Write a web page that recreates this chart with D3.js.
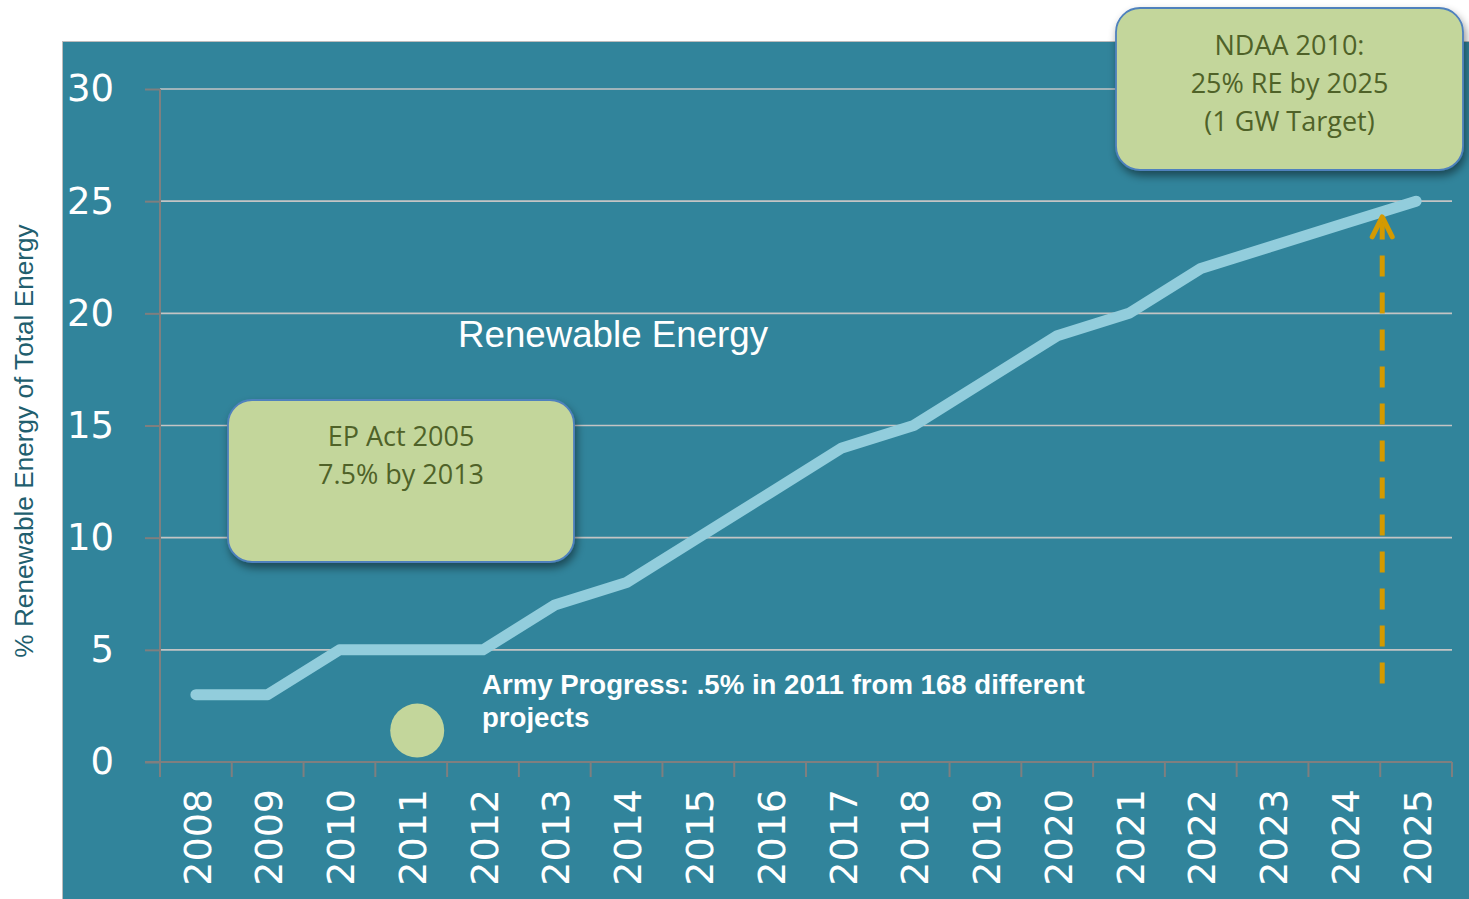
<!DOCTYPE html>
<html>
<head>
<meta charset="utf-8">
<script src="https://cdn.jsdelivr.net/npm/d3@7"></script>
<style>
  html, body { margin: 0; padding: 0; background: #ffffff; }
  svg { display: block; }
</style>
</head>
<body>
<svg id="chart" width="1469" height="899"></svg>
<script>
// data
var years = ["2008","2009","2010","2011","2012","2013","2014","2015","2016",
             "2017","2018","2019","2020","2021","2022","2023","2024","2025"];
var rePercent = [3, 3, 5, 5, 5, 7, 8, 10, 12, 14, 15, 17, 19, 20, 22, 23, 24, 25];
var yTicks = [0, 5, 10, 15, 20, 25, 30];
var armyMarker = { year: "2011", value: 1.4 };
var targetArrow = { year: "2025", from: 3.5, to: 24.3 };

var epActLines = ["EP Act 2005", "7.5% by 2013"];
var ndaaLines = ["NDAA 2010:", "25% RE by 2025", "(1 GW Target)"];
var armyLines = ["Army Progress: .5% in 2011 from 168 different", "projects"];

var svg = d3.select("#chart");
var W = +svg.attr("width"), H = +svg.attr("height");

var defs = svg.append("defs");
var shadow = defs.append("filter").attr("id", "shadow")
    .attr("x", "-10%").attr("y", "-10%").attr("width", "130%").attr("height", "140%");
shadow.append("feDropShadow")
    .attr("dx", 2).attr("dy", 5).attr("stdDeviation", 4)
    .attr("flood-color", "#000").attr("flood-opacity", 0.45);

// teal panel
svg.append("rect")
    .attr("x", 62.5).attr("y", 41.5)
    .attr("width", W - 62).attr("height", H - 41)
    .attr("fill", "#31849b")
    .attr("stroke", "#bcbcbc").attr("stroke-width", 1);

var x = d3.scaleBand().domain(years).range([160, 1452]).padding(0);
var y = d3.scaleLinear().domain([0, 30]).range([762, 89]);

// gridlines
svg.append("g").selectAll("line")
    .data(yTicks.filter(function(d) { return d > 0; }))
    .enter().append("line")
    .attr("x1", 160).attr("x2", 1452)
    .attr("y1", function(d) { return y(d); })
    .attr("y2", function(d) { return y(d); })
    .attr("stroke", "#c4c4c4").attr("stroke-width", 1.6);

// y axis
var yAxis = svg.append("g")
    .attr("transform", "translate(160,0)")
    .call(d3.axisLeft(y).tickValues(yTicks).tickSize(15).tickPadding(31));
yAxis.select(".domain").remove();
yAxis.selectAll(".tick line").attr("stroke", "#7f7f7f").attr("stroke-width", 2);
yAxis.selectAll(".tick text")
    .attr("fill", "#ffffff")
    .style("font-family", "'DejaVu Sans', Verdana, sans-serif")
    .style("font-size", "37px");
yAxis.append("line")
    .attr("x1", 0).attr("x2", 0)
    .attr("y1", y(30)).attr("y2", y(0) + 15)
    .attr("stroke", "#7f7f7f").attr("stroke-width", 2);

// x axis
var xAxis = svg.append("g").attr("transform", "translate(0," + y(0) + ")");
xAxis.append("line")
    .attr("x1", 145).attr("x2", 1452).attr("y1", 0).attr("y2", 0)
    .attr("stroke", "#7f7f7f").attr("stroke-width", 2);
xAxis.selectAll(".xtick")
    .data(years.concat(["end"]))
    .enter().append("line")
    .attr("class", "xtick")
    .attr("x1", function(d) { return d === "end" ? x.range()[1] : x(d); })
    .attr("x2", function(d) { return d === "end" ? x.range()[1] : x(d); })
    .attr("y1", 0).attr("y2", 15)
    .attr("stroke", "#7f7f7f").attr("stroke-width", 2);
xAxis.selectAll(".xlabel")
    .data(years)
    .enter().append("text")
    .attr("class", "xlabel")
    .attr("transform", function(d) {
        return "translate(" + (x(d) + x.bandwidth() / 2 + 1) + ",27) rotate(-90)";
    })
    .attr("text-anchor", "end")
    .attr("dy", "0.36em")
    .attr("fill", "#ffffff")
    .style("font-family", "'DejaVu Sans', Verdana, sans-serif")
    .style("font-size", "38px")
    .text(function(d) { return d; });

// y axis title
svg.append("text")
    .attr("transform", "translate(33,441) rotate(-90)")
    .attr("text-anchor", "middle")
    .attr("fill", "#215e6e")
    .style("font-family", "'Liberation Sans', Arial, sans-serif")
    .style("font-size", "26.2px")
    .text("% Renewable Energy of Total Energy");

// the RE line
var line = d3.line()
    .x(function(d, i) { return x(years[i]) + x.bandwidth() / 2; })
    .y(function(d) { return y(d); });
svg.append("path")
    .datum(rePercent)
    .attr("d", line)
    .attr("fill", "none")
    .attr("stroke", "#92cddc")
    .attr("stroke-width", 11)
    .attr("stroke-linecap", "round")
    .attr("stroke-linejoin", "round");

svg.append("text")
    .attr("x", 458).attr("y", 347)
    .attr("fill", "#ffffff")
    .style("font-family", "'Liberation Sans', Arial, sans-serif")
    .style("font-size", "36.7px")
    .text("Renewable Energy");

// army progress marker
svg.append("circle")
    .attr("cx", x(armyMarker.year) + x.bandwidth() / 2 + 6)
    .attr("cy", y(armyMarker.value))
    .attr("r", 27)
    .attr("fill", "#c3d69b");

var army = svg.append("text")
    .attr("x", 482).attr("y", 694)
    .attr("fill", "#ffffff")
    .style("font-family", "'Liberation Sans', Arial, sans-serif")
    .style("font-weight", "bold")
    .style("font-size", "27.6px");
army.selectAll("tspan").data(armyLines).enter().append("tspan")
    .attr("x", 482)
    .attr("dy", function(d, i) { return i === 0 ? 0 : 33; })
    .text(function(d) { return d; });

// target arrow (dashed, orange)
var ax = x(targetArrow.year) + 2;
svg.append("line")
    .attr("x1", ax).attr("x2", ax)
    .attr("y1", y(targetArrow.from)).attr("y2", y(targetArrow.to) + 6)
    .attr("stroke", "#d49a00").attr("stroke-width", 5)
    .attr("stroke-dasharray", "21,16");
svg.append("path")
    .attr("d", "M" + (ax - 10) + "," + (y(targetArrow.to) + 20) +
               "L" + ax + "," + y(targetArrow.to) +
               "L" + (ax + 10) + "," + (y(targetArrow.to) + 20))
    .attr("fill", "none")
    .attr("stroke", "#d49a00").attr("stroke-width", 5)
    .attr("stroke-linecap", "round").attr("stroke-linejoin", "round");

// callout boxes
function callout(x0, y0, w, h, lines, firstBaseline) {
    var g = svg.append("g");
    g.append("rect")
        .attr("x", x0).attr("y", y0).attr("width", w).attr("height", h)
        .attr("rx", 24).attr("ry", 24)
        .attr("fill", "#c3d69b")
        .attr("stroke", "#4f81bd").attr("stroke-width", 1.8)
        .attr("filter", "url(#shadow)");
    var t = g.append("text")
        .attr("text-anchor", "middle")
        .attr("fill", "#4f6228")
        .style("font-family", "'Open Sans', 'Noto Sans', sans-serif")
        .style("font-size", "27px");
    t.selectAll("tspan").data(lines).enter().append("tspan")
        .attr("x", x0 + w / 2)
        .attr("y", function(d, i) { return firstBaseline + i * 38; })
        .text(function(d) { return d; });
}
callout(228, 400, 346, 162, epActLines, 446);
callout(1116, 8, 347, 162, ndaaLines, 55);
</script>
</body>
</html>
